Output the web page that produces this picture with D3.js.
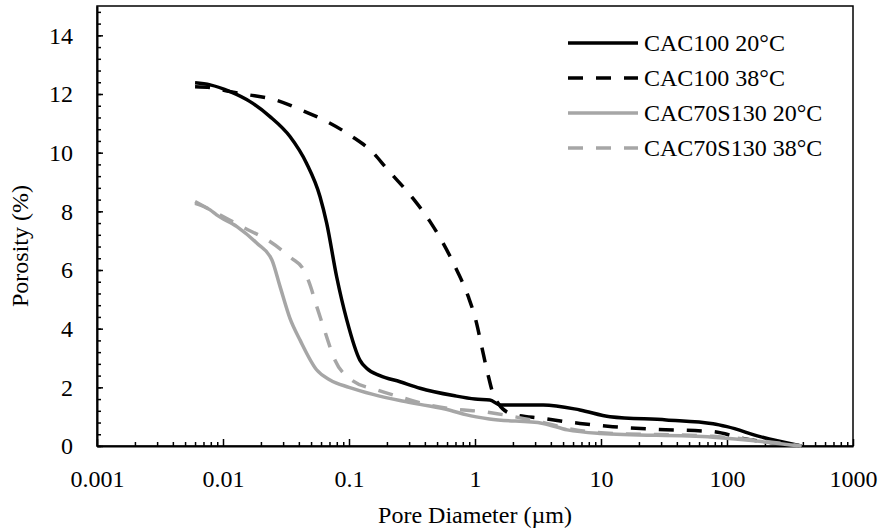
<!DOCTYPE html>
<html>
<head>
<meta charset="utf-8">
<script src="https://cdn.jsdelivr.net/npm/d3@7"></script>
<style>
  body { margin: 0; background: #fff; }
  svg { display: block; font-family: "Liberation Serif", "Times New Roman", serif; }
  .axis path, .axis line { stroke: #000; }
  .graph-label { font-size: 24px; text-anchor: middle; }
  .legend-label { font-size: 24px; }
</style>
</head>
<body>
<svg></svg>
<script>
// pore diameter (um) and porosity (%)
var cac100_20_d = [0.006, 0.0079, 0.0114, 0.0164, 0.0236, 0.034, 0.046, 0.0589, 0.0665, 0.0798, 0.096, 0.122, 0.138, 0.176, 0.254, 0.366, 0.674, 1.0, 1.31, 1.58, 3.48, 6.8, 11.8, 33, 77.6, 100, 183, 390];
var cac100_20_p = [12.38, 12.31, 12.08, 11.74, 11.23, 10.55, 9.64, 8.5, 7.6, 5.77, 4.3, 2.93, 2.65, 2.4, 2.19, 1.97, 1.72, 1.6, 1.57, 1.40, 1.40, 1.23, 1.0, 0.89, 0.76, 0.66, 0.32, 0];

var cac100_38_d = [0.006, 0.0079, 0.0114, 0.015, 0.026, 0.042, 0.064, 0.104, 0.155, 0.2, 0.322, 0.44, 0.557, 0.716, 0.885, 1.03, 1.13, 1.28, 1.40, 1.53, 1.90, 3.47, 6.8, 12.4, 27.5, 77, 134, 390];
var cac100_38_p = [12.25, 12.22, 12.08, 11.99, 11.8, 11.45, 11.1, 10.57, 10.0, 9.45, 8.44, 7.65, 6.92, 6.0, 5.09, 4.18, 3.39, 2.36, 1.74, 1.45, 1.11, 0.94, 0.77, 0.66, 0.57, 0.49, 0.26, 0];

var cac70_20_d = [0.006, 0.0079, 0.0089, 0.0129, 0.0186, 0.0244, 0.0283, 0.034, 0.041, 0.0553, 0.0707, 0.1, 0.155, 0.254, 0.366, 0.634, 0.86, 1.3, 3.47, 5.4, 9.8, 77, 390];
var cac70_20_p = [8.27, 8.05, 7.88, 7.48, 6.91, 6.35, 5.45, 4.35, 3.6, 2.6, 2.25, 2.0, 1.76, 1.55, 1.42, 1.22, 1.06, 0.92, 0.77, 0.55, 0.43, 0.30, 0];

var cac70_38_d = [0.006, 0.0089, 0.0147, 0.023, 0.035, 0.043, 0.048, 0.056, 0.065, 0.076, 0.105, 0.17, 0.28, 0.41, 0.71, 1.16, 1.5, 3.7, 5.4, 10, 77, 390];
var cac70_38_p = [8.33, 7.94, 7.44, 7.0, 6.4, 6.05, 5.6, 4.7, 3.85, 3.0, 2.25, 1.9, 1.62, 1.42, 1.25, 1.17, 1.1, 0.77, 0.6, 0.45, 0.33, 0];

var seriesNames = ["CAC100 20\u00b0C", "CAC100 38\u00b0C", "CAC70S130 20\u00b0C", "CAC70S130 38\u00b0C"];
var xTicks = [0.001, 0.01, 0.1, 1, 10, 100, 1000];
var yTicks = [0, 2, 4, 6, 8, 10, 12, 14];

var serifFont = '"Liberation Serif", "Times New Roman", serif';

function zip(d, p) {
  return d.map(function(v, i) { return { d: v, p: p[i] }; });
}

var series = [
  { name: seriesNames[0], values: zip(cac100_20_d, cac100_20_p), color: "#000", dash: null },
  { name: seriesNames[1], values: zip(cac100_38_d, cac100_38_p), color: "#000", dash: "15,13" },
  { name: seriesNames[2], values: zip(cac70_20_d, cac70_20_p), color: "#a6a6a6", dash: null },
  { name: seriesNames[3], values: zip(cac70_38_d, cac70_38_p), color: "#a6a6a6", dash: "15,13" }
];

var svgWidth = 884, svgHeight = 531;
var margin = { top: 6, right: 31, bottom: 85, left: 97 };
var width = svgWidth - margin.left - margin.right;
var height = svgHeight - margin.top - margin.bottom;

var svg = d3.select("svg")
  .attr("width", svgWidth)
  .attr("height", svgHeight);

var chart = svg.append("g")
  .attr("transform", `translate(${margin.left}, ${margin.top})`);

var x = d3.scaleLog().domain([0.001, 1000]).range([0, width]);
var y = d3.scaleLinear().domain([0, 15]).range([height, 0]);

// minor ticks
var xMinor = [];
xTicks.slice(0, -1).forEach(function(t) {
  for (var k = 2; k <= 9; k++) xMinor.push(t * k);
});
var yMinor = d3.range(0, 15.01, 0.4);

chart.append("g")
  .attr("class", "axis")
  .attr("transform", "translate(0," + height + ")")
  .call(d3.axisBottom(x).tickValues(xMinor).tickSizeInner(-4).tickSizeOuter(0).tickFormat(""))
  .call(function(g) { g.select(".domain").remove(); })
  .selectAll("line").attr("stroke-width", 1.5);

chart.append("g")
  .attr("class", "axis")
  .call(d3.axisLeft(y).tickValues(yMinor).tickSizeInner(-4).tickSizeOuter(0).tickFormat(""))
  .call(function(g) { g.select(".domain").remove(); })
  .selectAll("line").attr("stroke-width", 1.5);

// frame
chart.append("rect")
  .attr("width", width)
  .attr("height", height)
  .attr("fill", "none")
  .attr("stroke", "#000")
  .attr("stroke-width", 1.5);

// major axes
var xAxis = chart.append("g")
  .attr("class", "axis")
  .attr("transform", "translate(0," + height + ")")
  .call(d3.axisBottom(x).tickValues(xTicks).tickSizeInner(-7).tickSizeOuter(0).tickPadding(24)
    .tickFormat(function(d) { return d3.format("~g")(d); }))
  .attr("font-family", serifFont)
  .attr("font-size", 24);
xAxis.select(".domain").attr("stroke-width", 2);
xAxis.selectAll("line").attr("stroke-width", 1.5);
xAxis.selectAll("text").attr("fill", "#000");

var yAxis = chart.append("g")
  .attr("class", "axis")
  .call(d3.axisLeft(y).tickValues(yTicks).tickSizeInner(-6).tickSizeOuter(0).tickPadding(24)
    .tickFormat(d3.format("d")))
  .attr("font-family", serifFont)
  .attr("font-size", 24);
yAxis.select(".domain").attr("stroke-width", 2);
yAxis.selectAll("line").attr("stroke-width", 1.5);
yAxis.selectAll("text").attr("fill", "#000");

// data lines
var line = d3.line()
  .x(function(d) { return x(d.d); })
  .y(function(d) { return y(d.p); })
  .curve(d3.curveMonotoneX);

chart.selectAll(".graph-line")
  .data(series)
  .enter()
  .append("path")
  .attr("class", "graph-line")
  .attr("fill", "none")
  .attr("stroke", function(d) { return d.color; })
  .attr("stroke-width", 3.5)
  .attr("stroke-dasharray", function(d) { return d.dash; })
  .attr("d", function(d) { return line(d.values); });

// legend
var legend = svg.append("g")
  .attr("transform", "translate(568, 43)");

var item = legend.selectAll("g")
  .data(series)
  .enter()
  .append("g")
  .attr("transform", function(d, i) { return "translate(0," + (i * 35) + ")"; });

item.append("line")
  .attr("x1", 0).attr("x2", 70)
  .attr("stroke", function(d) { return d.color; })
  .attr("stroke-width", 3.5)
  .attr("stroke-dasharray", function(d) { return d.dash; });

item.append("text")
  .attr("class", "legend-label")
  .attr("x", 76)
  .attr("y", 8)
  .text(function(d) { return d.name; });

// axis titles
svg.append("text")
  .attr("class", "graph-label")
  .attr("x", margin.left + width / 2)
  .attr("y", 523)
  .text("Pore Diameter (\u00b5m)");

svg.append("text")
  .attr("class", "graph-label")
  .attr("transform", "translate(28, 246) rotate(-90)")
  .text("Porosity (%)");
</script>
</body>
</html>
